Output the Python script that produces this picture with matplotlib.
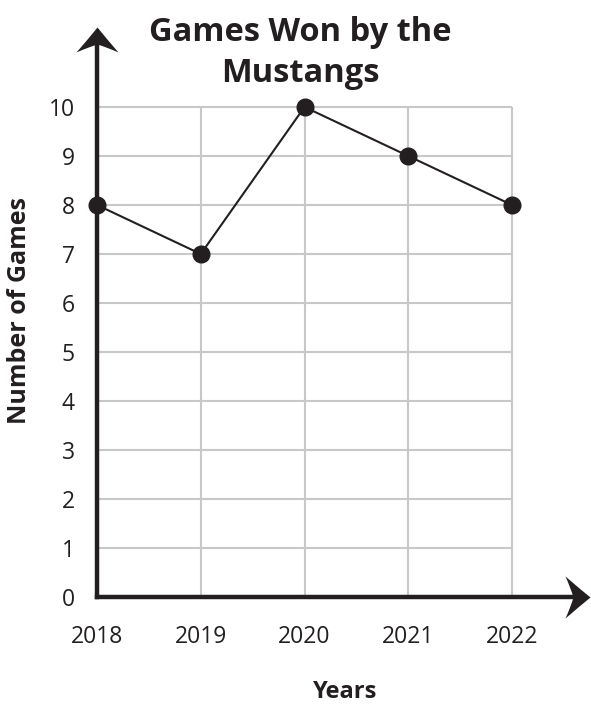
import matplotlib.pyplot as plt
from matplotlib.path import Path

plt.rcParams['font.family'] = ['Open Sans', 'DejaVu Sans']

years = [2018, 2019, 2020, 2021, 2022]
games = [8, 7, 10, 9, 8]
y_ticks = list(range(0, 11))

ink = '#231f20'

fig = plt.figure(figsize=(5.91, 7.04), dpi=100)
ax = fig.add_axes([97 / 591, 1 - 597 / 704, (590 - 97) / 591, (597 - 27) / 704])

x0, x1 = 2018, 2018 + (590 - 97) / 103.75
y0, y1 = 0, (597 - 27) / 49.0
ax.set_xlim(x0, x1)
ax.set_ylim(y0, y1)

# grid only inside the data range
ax.vlines(years, 0, 10, colors='#c8c8c8', lw=1.5, zorder=1)
ax.hlines(y_ticks, 2018, 2022, colors='#c8c8c8', lw=1.5, zorder=1)

ax.plot(years, games, color=ink, lw=1.5, marker='o', markersize=12,
        zorder=5, clip_on=False)

for s in ax.spines.values():
    s.set_visible(False)

# axis lines
ax.plot([2018, x1 - 0.15], [0, 0], color=ink, lw=3.2, solid_capstyle='projecting',
        clip_on=False, zorder=4)
ax.plot([2018, 2018], [0, y1 - 0.3], color=ink, lw=3.2, solid_capstyle='projecting',
        clip_on=False, zorder=4)


def arrow_head(pointing):
    # concave arrowhead, tip at origin
    pts = [(0, 0), (8, -10), (21, -25), (10, -20), (0, -17), (-10, -20), (-21, -25), (-8, -10), (0, 0)]
    codes = [Path.MOVETO] + [Path.CURVE3] * 8
    if pointing == 'right':
        pts = [(y, x) for x, y in pts]
    return Path(pts, codes)


ax.plot([2018], [y1], marker=arrow_head('up'), markersize=36, color=ink,
        markeredgewidth=0, clip_on=False, zorder=6)
ax.plot([x1], [0], marker=arrow_head('right'), markersize=36, color=ink,
        markeredgewidth=0, clip_on=False, zorder=6)

ax.set_xticks(years)
ax.set_xticklabels([str(y) for y in years])
ax.set_yticks(y_ticks)
ax.tick_params(length=0, labelsize=16.5, colors=ink)
ax.tick_params(axis='x', pad=20)
ax.tick_params(axis='y', pad=16)

fig.text(345 / 591, 1 - 692 / 704, 'Years', ha='center', va='center',
         fontsize=17, fontweight='bold', color=ink)
fig.text(20 / 591, 1 - 310 / 704, 'Number of Games', ha='center', va='center',
         rotation=90, fontsize=18, fontweight='bold', color=ink)

fig.text(300 / 591, 1 - 53 / 704, 'Games Won by the\nMustangs', ha='center', va='center',
         fontsize=23.5, fontweight='bold', color=ink, linespacing=1.3)

fig.savefig('out.png', dpi=100)
